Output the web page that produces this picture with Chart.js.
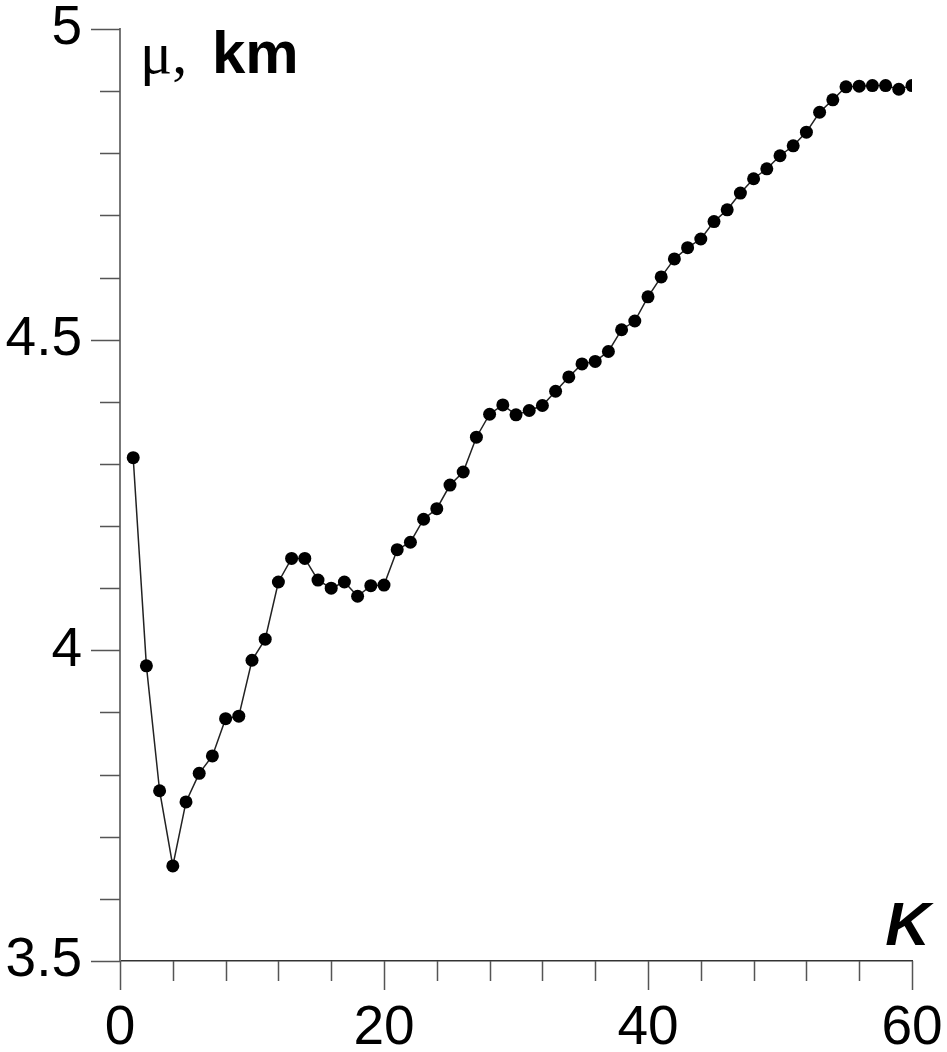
<!DOCTYPE html>
<html>
<head>
<meta charset="utf-8">
<script src="https://cdn.jsdelivr.net/npm/chart.js@4.4.1/dist/chart.umd.min.js"></script>
<style>
  html, body { margin: 0; padding: 0; background: #fff; }
  canvas { display: block; }
</style>
</head>
<body>
<canvas id="myChart" width="947" height="1052"></canvas>
<script>
// K (number of clusters) and mean value mu, km
var kValues = [1, 2, 3, 4, 5, 6, 7, 8, 9, 10,
    11, 12, 13, 14, 15, 16, 17, 18, 19, 20,
    21, 22, 23, 24, 25, 26, 27, 28, 29, 30,
    31, 32, 33, 34, 35, 36, 37, 38, 39, 40,
    41, 42, 43, 44, 45, 46, 47, 48, 49, 50,
    51, 52, 53, 54, 55, 56, 57, 58, 59, 60];
var muValues = [4.310, 3.975, 3.774, 3.653, 3.756, 3.802, 3.830, 3.890, 3.894, 3.984,
    4.018, 4.110, 4.148, 4.148, 4.113, 4.100, 4.110, 4.087, 4.104, 4.105,
    4.162, 4.174, 4.211, 4.228, 4.266, 4.287, 4.343, 4.380, 4.395, 4.379,
    4.386, 4.394, 4.417, 4.440, 4.461, 4.465, 4.481, 4.516, 4.530, 4.569,
    4.601, 4.630, 4.648, 4.662, 4.690, 4.709, 4.736, 4.759, 4.775, 4.796,
    4.812, 4.834, 4.866, 4.886, 4.907, 4.908, 4.909, 4.909, 4.903, 4.909];
var xTickLabels = [0, 20, 40, 60];
var yTickLabels = [3.5, 4, 4.5, 5];

var points = kValues.map(function (k, i) {
    return { x: k, y: muValues[i] };
});

// drop the extra room chart.js keeps for overhanging labels
function noPadding(scale) {
    scale.paddingTop = 0;
    scale.paddingBottom = 0;
    scale.paddingLeft = 0;
    scale.paddingRight = 0;
}

// tick marks: long ones at labelled values, short ones in between
var tickMarks = {
    id: 'tickMarks',
    afterDraw: function (chart) {
        var ctx = chart.ctx;
        var xs = chart.scales.x, ys = chart.scales.y;
        var area = chart.chartArea;
        ctx.save();
        ctx.strokeStyle = '#555';
        ctx.lineWidth = 1.5;
        ctx.beginPath();
        for (var v = 0; v <= 60; v += 4) {
            var px = Math.round(xs.getPixelForValue(v)) + 0.5;
            var len = xTickLabels.indexOf(v) >= 0 ? 29 : 20;
            ctx.moveTo(px, area.bottom);
            ctx.lineTo(px, area.bottom + len);
        }
        for (var j = 0; j <= 15; j++) {
            var val = 3.5 + j * 0.1;
            var py = Math.round(ys.getPixelForValue(val)) + 0.5;
            var l = (j % 5 === 0) ? 29 : 20;
            ctx.moveTo(area.left, py);
            ctx.lineTo(area.left - l, py);
        }
        ctx.stroke();

        // axis titles
        ctx.fillStyle = '#000';
        ctx.textBaseline = 'alphabetic';
        ctx.textAlign = 'left';
        ctx.font = '60px "Liberation Serif", "Times New Roman", serif';
        ctx.fillText('\u03bc,', 140, 73);
        ctx.font = 'bold 60px "Liberation Sans", Arial, sans-serif';
        ctx.fillText('km', 212, 73);
        ctx.font = 'italic bold 62px "Liberation Sans", Arial, sans-serif';
        ctx.textAlign = 'right';
        ctx.fillText('K', 930, 945);
        ctx.restore();
    }
};

var ctx = document.getElementById('myChart').getContext('2d');
var myChart = new Chart(ctx, {
    type: 'line',
    data: {
        datasets: [{
            label: 'mu',
            data: points,
            borderColor: '#222',
            borderWidth: 1.5,
            pointRadius: 6.5,
            pointBackgroundColor: '#000',
            pointBorderColor: '#000',
            pointBorderWidth: 0,
            tension: 0
        }]
    },
    options: {
        responsive: false,
        devicePixelRatio: 1,
        animation: false,
        layout: { padding: { top: 29, right: 35, left: 0, bottom: 0 } },
        plugins: {
            legend: { display: false },
            tooltip: { enabled: false }
        },
        scales: {
            x: {
                type: 'linear',
                min: 0,
                max: 60,
                afterFit: function (scale) { scale.height = 91; noPadding(scale); },
                afterBuildTicks: function (scale) {
                    scale.ticks = xTickLabels.map(function (v) { return { value: v }; });
                },
                grid: { display: false, drawTicks: false },
                border: { display: true, color: '#333', width: 1.5 },
                ticks: {
                    color: '#000',
                    padding: 40,
                    maxRotation: 0,
                    font: { family: '"Liberation Sans", Arial, sans-serif', size: 55, lineHeight: 1 }
                }
            },
            y: {
                min: 3.5,
                max: 5,
                afterFit: function (scale) { scale.width = 120; noPadding(scale); },
                afterBuildTicks: function (scale) {
                    scale.ticks = yTickLabels.map(function (v) { return { value: v }; });
                },
                grid: { display: false, drawTicks: false },
                border: { display: true, color: '#777', width: 2 },
                ticks: {
                    color: '#000',
                    padding: 38,
                    font: { family: '"Liberation Sans", Arial, sans-serif', size: 55, lineHeight: 1 },
                    callback: function (v) { return String(v); }
                }
            }
        }
    },
    plugins: [tickMarks]
});
</script>
</body>
</html>
